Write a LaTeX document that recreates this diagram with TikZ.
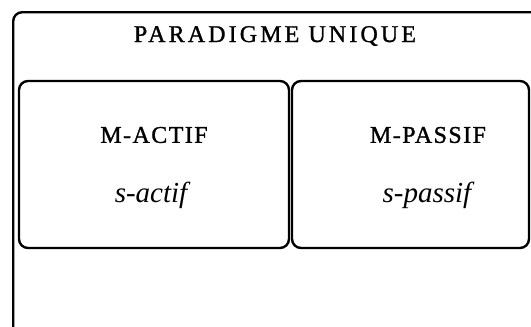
\documentclass[tikz,border=0pt]{standalone}
\usepackage{fontspec}
\setmainfont{Liberation Serif}
\begin{document}
\begin{tikzpicture}[x=1pt,y=-1pt,line width=2.4pt]
\tikzstyle{box}=[draw=black,rounded corners=9pt,inner sep=0pt]
\tikzstyle{caps}=[font=\fontsize{24}{28}\selectfont\addfontfeatures{LetterSpace=6,FakeBold=1.2}]
\tikzstyle{titlecaps}=[font=\fontsize{24}{28}\selectfont\addfontfeatures{LetterSpace=13,FakeBold=1.2}]
\tikzstyle{ital}=[font=\fontsize{29}{34}\selectfont\itshape]
\useasboundingbox (0,0) rectangle (531,327);
\clip (0,0) rectangle (531,327);
% outer frame
\node[box,minimum width=540pt,minimum height=340pt,anchor=north west] (frame) at (12,11) {};
\node[titlecaps] (title) at (275,36) {PARADIGME UNIQUE};
% inner boxes
\node[box,minimum width=270pt,minimum height=167pt] (actif) at (154,164.5) {};
\node[box,minimum width=237pt,minimum height=167pt] (passif) at (410.5,164.5) {};
\node[caps] (mactif) at (154,135) {M-ACTIF};
\node[ital] (sactif) at (151,195) {s-actif};
\node[caps] (mpassif) at (428,135) {M-PASSIF};
\node[ital] (spassif) at (427,195) {s-passif};
\end{tikzpicture}
\end{document}
